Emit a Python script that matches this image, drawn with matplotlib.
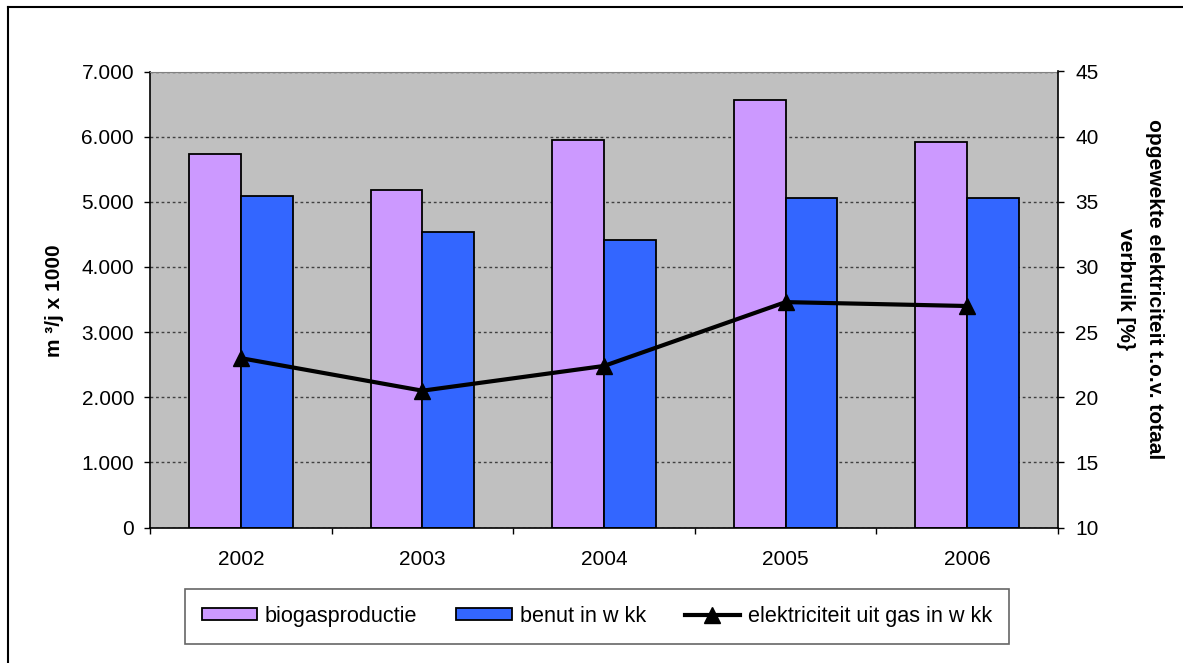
import matplotlib
matplotlib.use("Agg")
import matplotlib.pyplot as plt
from matplotlib.lines import Line2D
from matplotlib.ticker import FixedLocator, FuncFormatter
import numpy as np

plt.rcParams['font.family'] = ['Liberation Sans', 'DejaVu Sans']

years = ["2002", "2003", "2004", "2005", "2006"]
biogasproductie = [5730, 5180, 5950, 6570, 5920]      # m3/j x 1000
benut_in_wkk = [5090, 4540, 4410, 5060, 5060]         # m3/j x 1000
elektriciteit_pct = [23.0, 20.5, 22.4, 27.3, 27.0]    # % of total consumption

W, H = 1183, 663
fig = plt.figure(figsize=(W / 100, H / 100), dpi=100)
fig.patch.set_facecolor("white")

left, right, top, bottom = 150, 1058, 71.5, 527.5
ax = fig.add_axes([left / W, 1 - bottom / H, (right - left) / W, (bottom - top) / H])
ax.set_facecolor("#C0C0C0")

x = np.arange(len(years))
bw = 1 / 3.5
ax.bar(x - bw / 2, biogasproductie, width=bw, color="#CC99FF", edgecolor="black",
       linewidth=1.3, label="biogasproductie", zorder=2)
ax.bar(x + bw / 2, benut_in_wkk, width=bw, color="#3366FF", edgecolor="black",
       linewidth=1.3, label="benut in w kk", zorder=2)

ax.set_xlim(-0.5, len(years) - 0.5)
ax.set_ylim(0, 7000)
ax.set_yticks(np.arange(0, 7001, 1000))
ax.yaxis.set_major_formatter(FuncFormatter(lambda v, p: f"{int(v):,}".replace(",", ".")))
ax.grid(axis="y", color="#404040", linestyle=(0, (2, 2)), linewidth=1)
ax.set_axisbelow(True)

ax.set_xticks(x)
ax.set_xticklabels(years)
ax.xaxis.set_minor_locator(FixedLocator(np.arange(-0.5, len(years), 1.0)))
ax.tick_params(axis="x", which="major", length=0, pad=16, labelsize=15)
ax.tick_params(axis="x", which="minor", length=4.5, width=1, direction="out")
ax.tick_params(axis="y", length=4.5, width=1, pad=7, labelsize=15)

for s in ("left", "bottom"):
    ax.spines[s].set_color("black")
    ax.spines[s].set_linewidth(1.2)
ax.spines["top"].set_color("#808080")
ax.spines["right"].set_visible(False)

ax2 = ax.twinx()
line, = ax2.plot(x, elektriciteit_pct, color="black", linewidth=3, marker="^",
                 markersize=11, label="elektriciteit uit gas in w kk", zorder=3)
ax2.set_ylim(10, 45)
ax2.set_yticks(np.arange(10, 46, 5))
ax2.tick_params(axis="y", length=4.5, width=1, pad=8, labelsize=15)
for s in ("left", "bottom", "top"):
    ax2.spines[s].set_visible(False)
ax2.spines["right"].set_color("black")
ax2.spines["right"].set_linewidth(1.2)

fig.text(54.5 / W, 1 - 301 / H, "m ³/j x 1000", rotation=90, ha="center", va="center",
         fontsize=15, fontweight="bold")
fig.text(1140 / W, 1 - 289 / H, "opgewekte elektriciteit t.o.v. totaal\nverbruik [%}",
         rotation=270, ha="center", va="center", multialignment="center",
         fontsize=15, fontweight="bold", linespacing=1.65)

handles = [ax.containers[0], ax.containers[1], line]
labels = ["biogasproductie", "benut in w kk", "elektriciteit uit gas in w kk"]
leg = fig.legend(handles, labels, loc="center", bbox_to_anchor=(597 / W, 1 - 616.5 / H),
                 ncol=3, fontsize=15.6, frameon=True, fancybox=False, handlelength=2.54,
                 handleheight=0.5, handletextpad=0.37, columnspacing=1.8,
                 borderpad=0.78, borderaxespad=0)
leg.get_frame().set_edgecolor("#404040")
leg.get_frame().set_linewidth(1.2)

# outer chart border
fig.add_artist(Line2D([8 / W, 8 / W], [0, 1 - 7 / H], color="black", linewidth=1.5,
                      transform=fig.transFigure))
fig.add_artist(Line2D([8 / W, 1], [1 - 7 / H, 1 - 7 / H], color="black", linewidth=1.5,
                      transform=fig.transFigure))

fig.savefig("out.png", dpi=100)
